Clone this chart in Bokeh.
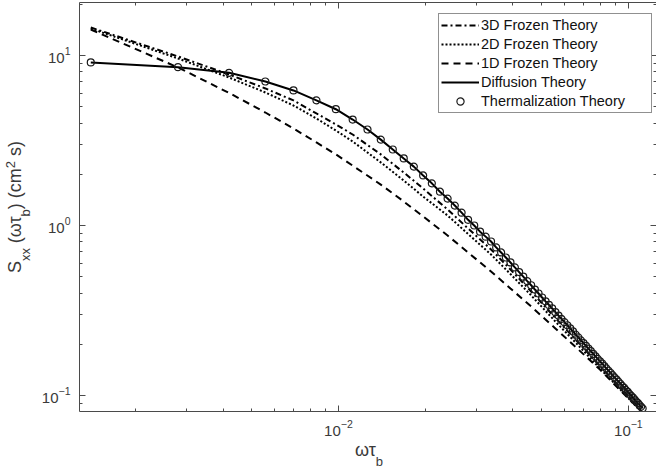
import math

from bokeh.embed import file_html
from bokeh.models import (CustomJSTickFormatter, FixedTicker, Legend,
                          LegendItem, LogAxis, LogTickFormatter, Range1d)
from bokeh.plotting import figure
from bokeh.resources import INLINE

# ---- data -----------------------------------------------------------------
# normalised frequency grid (omega * tau_b)
omega_tau = [0.0014 * k for k in range(1, 81)]

# spectral density S_xx (cm^2 s) on the full grid
diffusion_theory = [
    9.1, 8.54, 7.91, 7.03, 6.23, 5.45, 4.83, 4.2, 3.67, 3.2,
    2.8, 2.48, 2.22, 1.97, 1.77, 1.58, 1.44, 1.31, 1.19, 1.08,
    1.0, 0.92, 0.86, 0.805, 0.743, 0.694, 0.648, 0.606, 0.567, 0.532,
    0.500, 0.471, 0.445, 0.420, 0.398, 0.377, 0.358, 0.341, 0.325, 0.309,
    0.295, 0.282, 0.270, 0.259, 0.248, 0.238, 0.228, 0.2196, 0.2112, 0.2033,
    0.1958, 0.1888, 0.1822, 0.1759, 0.1699, 0.1642, 0.1589, 0.1538, 0.1489, 0.1442,
    0.1398, 0.1356, 0.1316, 0.1277, 0.1240, 0.1206, 0.1172, 0.1139, 0.1109, 0.1079,
    0.1050, 0.1023, 0.0997, 0.0972, 0.0947, 0.0924, 0.0902, 0.0880, 0.0859, 0.0839,
]
thermalization_theory = list(diffusion_theory)

# frozen-turbulence curves, sampled on a subset of the grid
frozen_omega_tau = [0.0014, 0.0028, 0.0042, 0.0056, 0.0070, 0.0084, 0.0098,
                    0.0112, 0.0140, 0.0168, 0.0196, 0.0238, 0.0280, 0.0336,
                    0.0392, 0.0462, 0.0560, 0.0672, 0.0798, 0.0938, 0.1120]
frozen_3d = [14.61, 9.87, 7.73, 6.40, 5.44, 4.56, 3.93, 3.43, 2.62, 2.05, 1.65,
             1.242, 0.960, 0.723, 0.551, 0.409, 0.2857, 0.205, 0.149, 0.1115, 0.0805]
frozen_2d = [14.41, 9.60, 7.42, 6.06, 5.08, 4.26, 3.62, 3.12, 2.35, 1.84, 1.48,
             1.145, 0.891, 0.675, 0.518, 0.388, 0.2724, 0.197, 0.1441, 0.1085, 0.0783]
frozen_1d = [14.22, 8.50, 6.02, 4.62, 3.72, 3.08, 2.62, 2.25, 1.74, 1.384, 1.13,
             0.873, 0.694, 0.536, 0.426, 0.334, 0.248, 0.1865, 0.142, 0.1072, 0.0794]

# ---- figure -----------------------------------------------------------------
X_LO, X_HI = 0.00128, 0.125
Y_LO, Y_HI = 0.0805, 20.5
FRAME_TOP, FRAME_BOTTOM = 2, 411
FRAME_LEFT, FRAME_RIGHT = 79, 656
AXIS_COLOR = "#4a4a4a"
TEXT_COLOR = "#3a3a3a"
FONT = "Liberation Sans"

p = figure(width=656, height=472, x_axis_type="log", y_axis_type="log",
           x_range=Range1d(X_LO, X_HI), y_range=Range1d(Y_LO, Y_HI),
           output_backend="svg", toolbar_location=None,
           min_border_left=FRAME_LEFT, min_border_right=0,
           min_border_top=FRAME_TOP, min_border_bottom=472 - FRAME_BOTTOM)
p.grid.visible = False
p.outline_line_color = None
p.background_fill_color = "white"
p.border_fill_color = "white"

x_ticker = FixedTicker(ticks=[1e-3, 1e-2, 1e-1, 1.0],
                       minor_ticks=[m * 10.0 ** e for e in (-3, -2, -1) for m in range(2, 10)])
y_ticker = FixedTicker(ticks=[1e-2, 1e-1, 1.0, 10.0, 100.0],
                       minor_ticks=[m * 10.0 ** e for e in (-2, -1, 0, 1) for m in range(2, 10)])


def style_axis(ax, ticker, labelled, standoff=0, line=True):
    ax.ticker = ticker
    ax.major_tick_in = 6
    ax.major_tick_out = 0
    ax.minor_tick_in = 3
    ax.minor_tick_out = 0
    ax.major_tick_line_color = AXIS_COLOR
    ax.minor_tick_line_color = AXIS_COLOR
    ax.axis_line_color = AXIS_COLOR if line else None
    ax.axis_label = None
    if labelled:
        ax.formatter = LogTickFormatter()
        ax.major_label_standoff = standoff
        ax.major_label_text_font = FONT
        ax.major_label_text_font_size = "15px"
        ax.major_label_text_color = TEXT_COLOR
    else:
        ax.formatter = CustomJSTickFormatter(code="return ''")
        ax.major_label_standoff = 0
        ax.major_label_text_font_size = "0px"


style_axis(p.xaxis[0], x_ticker, True, standoff=8)
style_axis(p.yaxis[0], y_ticker, True, standoff=9)
top_axis = LogAxis()
style_axis(top_axis, x_ticker, False)
p.add_layout(top_axis, "above")
right_axis = LogAxis()
style_axis(right_axis, y_ticker, False, line=False)
p.add_layout(right_axis, "right")

# ---- curves -----------------------------------------------------------------
r3 = p.line(frozen_omega_tau, frozen_3d, line_color="black", line_width=2,
            line_dash="6 3 2 3")
r2 = p.line(frozen_omega_tau, frozen_2d, line_color="black", line_width=2,
            line_dash="2 2")
r1 = p.line(frozen_omega_tau, frozen_1d, line_color="black", line_width=2,
            line_dash="7 5")
rd = p.line(omega_tau, diffusion_theory, line_color="black", line_width=2)
rt = p.scatter(omega_tau, thermalization_theory, marker="circle", size=7,
               fill_color=None, line_color="#1a1a1a", line_width=1.2)

legend = Legend(items=[
    LegendItem(label="3D Frozen Theory", renderers=[r3]),
    LegendItem(label="2D Frozen Theory", renderers=[r2]),
    LegendItem(label="1D Frozen Theory", renderers=[r1]),
    LegendItem(label="Diffusion Theory", renderers=[rd]),
    LegendItem(label="Thermalization Theory", renderers=[rt]),
], location=(359, 298))
legend.label_text_font = FONT
legend.label_text_font_size = "14.5px"
legend.label_text_color = "#111111"
legend.glyph_width = 38
legend.glyph_height = 18
legend.label_height = 18
legend.spacing = 1
legend.padding = 2
legend.margin = 0
legend.label_standoff = 2
legend.label_width = 168
legend.border_line_color = "#222222"
legend.border_line_width = 1
legend.background_fill_color = "white"
legend.background_fill_alpha = 1.0
p.add_layout(legend, "center")

# ---- axis titles ------------------------------------------------------------
# Each title is split into pieces so that sub- and superscripts can use their
# own size and baseline; every piece is the label of an extra, line-less axis.
LX = (math.log10(X_LO), math.log10(X_HI))
LY = (math.log10(Y_LO), math.log10(Y_HI))
MAIN, SCRIPT = 18, 13
WIDTH = {"S": 0.667, "x": 0.5, " ": 0.278, "(": 0.333, ")": 0.333, "c": 0.5,
         "m": 0.833, "s": 0.5, "b": 0.556, "2": 0.556, "ω": 0.69, "τ": 0.45}


def text_width(text, size):
    return sum(WIDTH[ch] for ch in text) * size


def x_at(px):
    f = (px - FRAME_LEFT) / (FRAME_RIGHT - FRAME_LEFT)
    return 10 ** (LX[0] + f * (LX[1] - LX[0]))


def y_at(py):
    f = (FRAME_BOTTOM - py) / (FRAME_BOTTOM - FRAME_TOP)
    return 10 ** (LY[0] + f * (LY[1] - LY[0]))


def title_axis(side, ticks, labels, size, standoff, vertical=False):
    ax = LogAxis(ticker=FixedTicker(ticks=ticks, minor_ticks=[]),
                 formatter=CustomJSTickFormatter(args=dict(labels=labels),
                                                 code="return labels[index]"))
    ax.axis_line_color = None
    ax.major_tick_line_color = None
    ax.minor_tick_line_color = None
    ax.major_tick_in = ax.major_tick_out = 0
    ax.minor_tick_in = ax.minor_tick_out = 0
    ax.major_label_standoff = standoff
    ax.major_label_text_font = FONT
    ax.major_label_text_font_size = f"{size}px"
    ax.major_label_text_color = TEXT_COLOR
    if vertical:
        ax.major_label_orientation = "vertical"
    p.add_layout(ax, side)
    return ax


def lay_out(pieces, start, direction):
    """Place (text, role) pieces one after another; role 0 main, -1 sub, 1 sup."""
    placed = {-1: [], 0: [], 1: []}
    pos = start
    for text, role in pieces:
        size = MAIN if role == 0 else SCRIPT
        w = text_width(text, size)
        if text.strip():
            placed[role].append((text, pos + direction * w / 2))
        pos += direction * w
    return placed


# x title: omega tau_b, centred under the frame
x_pieces = [("ωτ", 0), ("b", -1)]
x_total = sum(text_width(t, MAIN if r == 0 else SCRIPT) for t, r in x_pieces)
xp = lay_out(x_pieces, (FRAME_LEFT + FRAME_RIGHT) / 2 - x_total / 2 + 1, 1)
for role, standoff in ((0, 1), (-1, -9)):
    items = xp[role]
    title_axis("below", [x_at(c) for _, c in items], [t for t, _ in items],
               MAIN if role == 0 else SCRIPT, standoff)

# y title: S_xx (omega tau_b) (cm^2 s), reading upwards
y_pieces = [("S", 0), ("xx", -1), (" ", 0), ("(ωτ", 0), ("b", -1), (")", 0),
            (" ", 0), ("(cm", 0), ("2", 1), (" ", 0), ("s)", 0)]
y_total = sum(text_width(t, MAIN if r == 0 else SCRIPT) for t, r in y_pieces)
yp = lay_out(y_pieces, (FRAME_TOP + FRAME_BOTTOM) / 2 + y_total / 2, -1)
for role, standoff in ((-1, 5), (0, -10), (1, -13)):
    items = sorted(yp[role], key=lambda t: -t[1])
    title_axis("left", [y_at(c) for _, c in items], [t for t, _ in items],
               MAIN if role == 0 else SCRIPT, standoff, vertical=True)

open("out.html", "w").write(file_html(p, INLINE))
